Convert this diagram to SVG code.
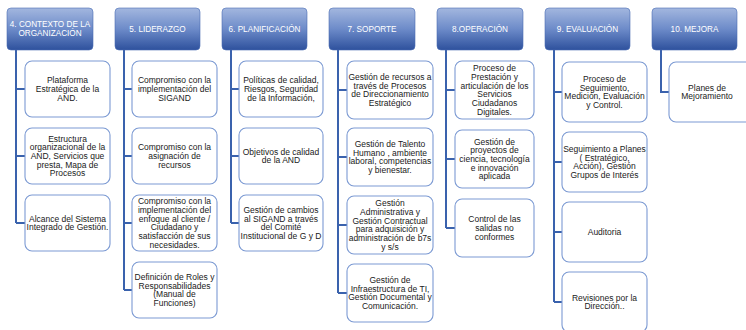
<svg xmlns="http://www.w3.org/2000/svg" width="746" height="330" viewBox="0 0 746 330">
<defs>
<linearGradient id="hg" x1="0" y1="0" x2="0" y2="1">
<stop offset="0" stop-color="#a3b7df"/>
<stop offset="0.5" stop-color="#6d8bc9"/>
<stop offset="1" stop-color="#2e519d"/>
</linearGradient>
<style>
.hdr{fill:url(#hg);stroke:#4a6db3;stroke-width:0.6}
.ht{font-family:"Liberation Sans",Arial,sans-serif;font-size:8.2px;fill:#ffffff;text-anchor:middle;dominant-baseline:central}
.box{fill:#ffffff;stroke:#7c9ad3;stroke-width:1.1}
.bt{font-family:"Liberation Sans",Arial,sans-serif;font-size:8.5px;fill:#1a1a1a;text-anchor:middle;dominant-baseline:central}
.con{fill:none;stroke:#3a62ad;stroke-width:2}
</style>
</defs>
<rect width="746" height="330" fill="#ffffff"/>
<g id="connectors">
<path class="con" d="M16 50V223M16 89H25M16 156H25M16 223H25"/>
<path class="con" d="M124 50V290M124 89H132M124 156H132M124 223H132M124 290H132"/>
<path class="con" d="M231 50V223M231 89H239M231 156H239M231 223H239"/>
<path class="con" d="M338 50V293M338 90H347M338 157H347M338 225H347M338 293H347"/>
<path class="con" d="M446 50V228M446 90H455M446 159H455M446 228H455"/>
<path class="con" d="M554 50V302M554 92H562M554 162H562M554 232H562M554 302H562"/>
<path class="con" d="M661 50V92H669"/>
</g>
<g id="h4"><rect class="hdr" x="7" y="8" width="86" height="42" rx="4"/><text class="ht" x="50" y="24.5">4. CONTEXTO  DE LA</text><text class="ht" x="50" y="33.5">ORGANIZACIÓN</text></g>
<g id="h5"><rect class="hdr" x="115" y="8" width="85" height="42" rx="4"/><text class="ht" x="157.5" y="29">5. LIDERAZGO</text></g>
<g id="h6"><rect class="hdr" x="222" y="8" width="85" height="42" rx="4"/><text class="ht" x="264.5" y="29">6. PLANIFICACIÓN</text></g>
<g id="h7"><rect class="hdr" x="329" y="8" width="86" height="42" rx="4"/><text class="ht" x="372" y="29">7. SOPORTE</text></g>
<g id="h8"><rect class="hdr" x="437" y="8" width="86" height="42" rx="4"/><text class="ht" x="480" y="29">8.OPERACIÓN</text></g>
<g id="h9"><rect class="hdr" x="545" y="8" width="85" height="42" rx="4"/><text class="ht" x="587.5" y="29">9. EVALUACIÓN</text></g>
<g id="h10"><rect class="hdr" x="652" y="8" width="85" height="42" rx="4"/><text class="ht" x="694.5" y="29">10. MEJORA</text></g>

<g id="c4a"><rect class="box" x="25" y="61" width="85" height="56" rx="7"/><text class="bt" x="67.5" y="80.3">Plataforma</text><text class="bt" x="67.5" y="89">Estratégica de la</text><text class="bt" x="67.5" y="97.7">AND.</text></g>
<g id="c4b"><rect class="box" x="25" y="128" width="85" height="56" rx="7"/><text class="bt" x="67.5" y="138.6">Estructura</text><text class="bt" x="67.5" y="147.3">organizacional de la</text><text class="bt" x="67.5" y="156">AND, Servicios que</text><text class="bt" x="67.5" y="164.7">presta, Mapa de</text><text class="bt" x="67.5" y="173.4">Procesos</text></g>
<g id="c4c"><rect class="box" x="25" y="195" width="85" height="56" rx="7"/><text class="bt" x="67.5" y="218.6">Alcance del Sistema</text><text class="bt" x="67.5" y="227.4">Integrado de Gestión.</text></g>

<g id="c5a"><rect class="box" x="132" y="61" width="85" height="56" rx="7"/><text class="bt" x="174.5" y="80.3">Compromiso con la</text><text class="bt" x="174.5" y="89">implementación del</text><text class="bt" x="174.5" y="97.7">SIGAND</text></g>
<g id="c5b"><rect class="box" x="132" y="128" width="85" height="56" rx="7"/><text class="bt" x="174.5" y="147.3">Compromiso con la</text><text class="bt" x="174.5" y="156">asignación de</text><text class="bt" x="174.5" y="164.7">recursos</text></g>
<g id="c5c"><rect class="box" x="132" y="195" width="85" height="56" rx="7"/><text class="bt" x="174.5" y="201.3">Compromiso con la</text><text class="bt" x="174.5" y="210">implementación del</text><text class="bt" x="174.5" y="218.7">enfoque al cliente /</text><text class="bt" x="174.5" y="227.4">Ciudadano y</text><text class="bt" x="174.5" y="236.1">satisfacción de sus</text><text class="bt" x="174.5" y="244.8">necesidades.</text></g>
<g id="c5d"><rect class="box" x="132" y="262" width="85" height="56" rx="7"/><text class="bt" x="174.5" y="277">Definición de Roles y</text><text class="bt" x="174.5" y="285.7">Responsabilidades</text><text class="bt" x="174.5" y="294.4">(Manual de</text><text class="bt" x="174.5" y="303.1">Funciones)</text></g>

<g id="c6a"><rect class="box" x="239" y="61" width="84" height="56" rx="7"/><text class="bt" x="281" y="80.3">Políticas de calidad,</text><text class="bt" x="281" y="89">Riesgos, Seguridad</text><text class="bt" x="281" y="97.7">de la Información,</text></g>
<g id="c6b"><rect class="box" x="239" y="128" width="84" height="56" rx="7"/><text class="bt" x="281" y="151.6">Objetivos de calidad</text><text class="bt" x="281" y="160.4">de la AND</text></g>
<g id="c6c"><rect class="box" x="239" y="195" width="84" height="56" rx="7"/><text class="bt" x="281" y="210">Gestión de cambios</text><text class="bt" x="281" y="218.7">al SIGAND a través</text><text class="bt" x="281" y="227.4">del Comité</text><text class="bt" x="281" y="236.1">Institucional de G y D</text></g>

<g id="c7a"><rect class="box" x="347" y="61" width="86" height="58" rx="7"/><text class="bt" x="390" y="77">Gestión de recursos a</text><text class="bt" x="390" y="85.7">través de Procesos</text><text class="bt" x="390" y="94.4">de Direccionamiento</text><text class="bt" x="390" y="103.1">Estratégico</text></g>
<g id="c7b"><rect class="box" x="347" y="128" width="86" height="58" rx="7"/><text class="bt" x="390" y="144">Gestión de Talento</text><text class="bt" x="390" y="152.7">Humano  , ambiente</text><text class="bt" x="390" y="161.4">laboral, competencias</text><text class="bt" x="390" y="170.1">y bienestar.</text></g>
<g id="c7c"><rect class="box" x="347" y="196" width="86" height="58" rx="7"/><text class="bt" x="390" y="203.3">Gestión</text><text class="bt" x="390" y="212">Administrativa y</text><text class="bt" x="390" y="220.7">Gestión Contractual</text><text class="bt" x="390" y="229.4">para adquisición y</text><text class="bt" x="390" y="238.1">administración de b7s</text><text class="bt" x="390" y="246.8">y s/s</text></g>
<g id="c7d"><rect class="box" x="347" y="264" width="86" height="58" rx="7"/><text class="bt" x="390" y="280">Gestión de</text><text class="bt" x="390" y="288.7">Infraestructura de TI,</text><text class="bt" x="390" y="297.4">Gestión Documental y</text><text class="bt" x="390" y="306.1">Comunicación.</text></g>

<g id="c8a"><rect class="box" x="455" y="61" width="79" height="58" rx="7"/><text class="bt" x="494.5" y="68.3">Proceso de</text><text class="bt" x="494.5" y="77">Prestación y</text><text class="bt" x="494.5" y="85.7">articulación de los</text><text class="bt" x="494.5" y="94.4">Servicios</text><text class="bt" x="494.5" y="103.1">Ciudadanos</text><text class="bt" x="494.5" y="111.8">Digitales.</text></g>
<g id="c8b"><rect class="box" x="455" y="130" width="79" height="58" rx="7"/><text class="bt" x="494.5" y="141.6">Gestión de</text><text class="bt" x="494.5" y="150.3">proyectos de</text><text class="bt" x="494.5" y="159">ciencia, tecnología</text><text class="bt" x="494.5" y="167.7">e innovación</text><text class="bt" x="494.5" y="176.4">aplicada</text></g>
<g id="c8c"><rect class="box" x="455" y="199" width="79" height="58" rx="7"/><text class="bt" x="494.5" y="219.3">Control de las</text><text class="bt" x="494.5" y="228">salidas no</text><text class="bt" x="494.5" y="236.7">conformes</text></g>

<g id="c9a"><rect class="box" x="562" y="62" width="85" height="60" rx="7"/><text class="bt" x="604.5" y="79">Proceso de</text><text class="bt" x="604.5" y="87.7">Seguimiento,</text><text class="bt" x="604.5" y="96.4">Medición,  Evaluación</text><text class="bt" x="604.5" y="105.1">y Control.</text></g>
<g id="c9b"><rect class="box" x="562" y="132" width="85" height="60" rx="7"/><text class="bt" x="604.5" y="149">Seguimiento a Planes</text><text class="bt" x="604.5" y="157.7">( Estratégico,</text><text class="bt" x="604.5" y="166.4">Acción), Gestión</text><text class="bt" x="604.5" y="175.1">Grupos de Interés</text></g>
<g id="c9c"><rect class="box" x="562" y="202" width="85" height="60" rx="7"/><text class="bt" x="604.5" y="232">Auditoria</text></g>
<g id="c9d"><rect class="box" x="562" y="272" width="85" height="60" rx="7"/><text class="bt" x="604.5" y="297.6">Revisiones por la</text><text class="bt" x="604.5" y="306.4">Dirección..</text></g>

<g id="c10a"><rect class="box" x="669" y="62" width="85" height="60" rx="7"/><text class="bt" x="707" y="87.6">Planes de</text><text class="bt" x="707" y="96.4">Mejoramiento</text></g>
</svg>
